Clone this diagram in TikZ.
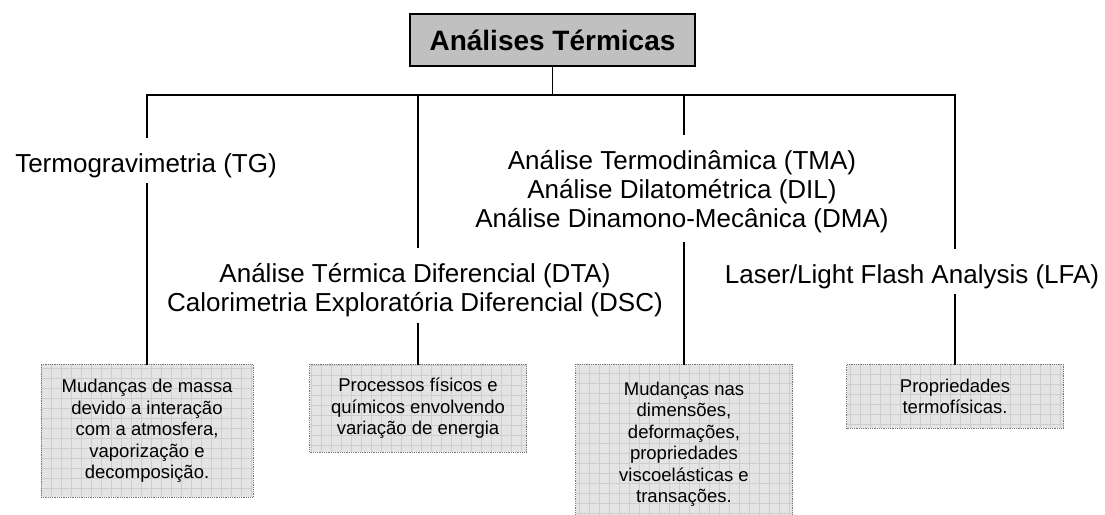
\documentclass[tikz,border=0pt]{standalone}
\usepackage{fontspec}
\setmainfont{Liberation Sans}
\usetikzlibrary{positioning}
\definecolor{titlegray}{RGB}{192,192,192}
\definecolor{boxgray}{RGB}{228,228,228}
\definecolor{gridgray}{RGB}{206,206,206}
\definecolor{dotgray}{RGB}{120,120,120}
\tikzset{
  titlebox/.style={draw, line width=1.3pt, fill=titlegray, minimum width=285pt, minimum height=52pt,
    inner sep=0pt, font=\bfseries\fontsize{28}{30}\selectfont},
  method/.style={anchor=north, inner sep=0pt, align=center, font=\fontsize{26}{28.8}\selectfont},
  info/.style={anchor=north, draw=dotgray, densely dotted, line width=0.8pt, fill=boxgray, inner sep=0pt,
    minimum width=217pt, align=center, font=\fontsize{18.5}{21.5}\selectfont,
    path picture={\draw[gridgray, solid, line width=0.5pt] (path picture bounding box.south west)
      grid[step=10pt] (path picture bounding box.north east);}},
  link/.style={line width=1.5pt, line cap=rect},
}

\begin{document}
\begin{tikzpicture}[x=1pt,y=-1pt]
  \useasboundingbox (0,0) rectangle (1105,514);
  % Top box
  \node[titlebox] (top) at (552.5,40) {Análises Térmicas};
  % Points on the bus
  \coordinate (bus) at (552.5,95);
  \coordinate (b1) at (147,95);
  \coordinate (b2) at (418,95);
  \coordinate (b3) at (684,95);
  \coordinate (b4) at (955,95);
  % Methods
  \node[method] (tg) at (146,153) {Termogravimetria (TG)};
  \node[method] (dta) at (415,263.6) {Análise Térmica Diferencial (DTA)\\Calorimetria Exploratória Diferencial (DSC)};
  \node[method] (tma) at (682,150.6) {Análise Termodinâmica (TMA)\\Análise Dilatométrica (DIL)\\Análise Dinamono-Mecânica (DMA)};
  \node[method] (lfa) at (912,264) {Laser/Light Flash Analysis (LFA)};
  % What each method follows
  \node[info, minimum width=212pt, minimum height=133pt] (tgbox) at (147,364)
    {Mudanças de massa\\devido a interação\\com a atmosfera,\\vaporização e\\decomposição.};
  \node[info, minimum height=88pt] (dtabox) at (418,364)
    {Processos físicos e\\químicos envolvendo\\variação de energia};
  \node[info, minimum height=160pt] (tmabox) at (684,364)
    {Mudanças nas\\dimensões,\\deformações,\\propriedades\\viscoelásticas e\\transações.};
  \node[info, minimum height=64pt] (lfabox) at (955,364)
    {Propriedades\\termofísicas.};
  % Connectors
  \draw[link] (top) -- (bus);
  \draw[link] (b1) -- (b4);
  \foreach \b/\m/\bx/\gap in {b1/tg/tgbox/6, b2/dta/dtabox/6, b3/tma/tmabox/10, b4/lfa/lfabox/6} {
    \draw[link, shorten >=16pt] (\b) -- (\b |- \m.north);
    \draw[link, shorten <=\gap pt] (\b |- \m.south) -- (\b |- \bx.north);
  }
\end{tikzpicture}
\end{document}
